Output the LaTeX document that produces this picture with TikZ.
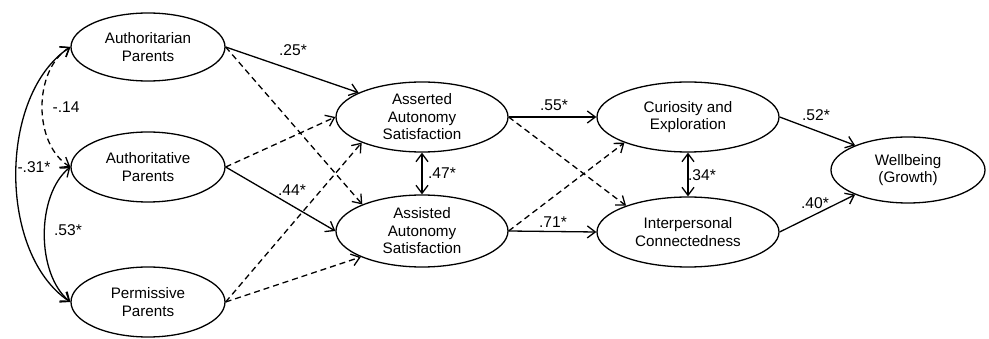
\documentclass[tikz,border=0pt]{standalone}
\usepackage{fontspec}
\setmainfont{Liberation Sans}
\usetikzlibrary{shapes.geometric,arrows.meta}
\begin{document}
\begin{tikzpicture}[x=1pt,y=1pt,
  >={Straight Barb[length=8pt,width=12pt]},
  ell/.style={draw, ellipse, line width=1.3pt, inner sep=0pt, align=center,
    font=\fontsize{15.2}{17.5}\selectfont},
  lbl/.style={font=\fontsize{15.6}{17.5}\selectfont, inner sep=0pt},
  conn/.style={line width=1.3pt, ->},
  dconn/.style={line width=1.3pt, <->},
  dsh/.style={dash pattern=on 6pt off 4pt}]
\useasboundingbox (0,0) rectangle (989,-339);
% nodes
\node[ell, minimum width=154, minimum height=68] (ar) at (148,-47) {Authoritarian\\Parents};
\node[ell, minimum width=154, minimum height=70] (av) at (148,-167) {Authoritative\\Parents};
\node[ell, minimum width=154, minimum height=70] (pe) at (148,-302) {Permissive\\Parents};
\node[ell, minimum width=172, minimum height=70] (as) at (422,-117) {Asserted\\Autonomy\\Satisfaction};
\node[ell, minimum width=172, minimum height=72] (ai) at (422,-231) {Assisted\\Autonomy\\Satisfaction};
\node[ell, minimum width=182, minimum height=70] (cu) at (688,-117) {Curiosity and\\Exploration};
\node[ell, minimum width=182, minimum height=70] (ip) at (688,-232) {Interpersonal\\Connectedness};
\node[ell, minimum width=154, minimum height=66] (wb) at (908,-170) {Wellbeing\\(Growth)};
% left correlations
\draw[dconn] (ar.west) .. controls (-2,-95) and (-2,-254) .. (pe.west);
\draw[dconn, dsh] (ar.west) .. controls (33,-70) and (33,-144) .. (av.west);
\draw[dconn] (av.west) .. controls (36,-195) and (36,-274) .. (pe.west);
\node[lbl] (l14) at (66,-107) {-.14};
\node[lbl] (l31) at (34,-167) {-.31*};
\node[lbl] (l53) at (68,-230) {.53*};
% parents -> autonomy
\draw[conn] (ar.east) -- (as.159);
\draw[conn, dsh] (ar.east) -- (ai.156);
\draw[conn, dsh] (av.east) -- (as.west);
\draw[conn] (av.east) -- (ai.west);
\draw[conn, dsh] (pe.east) -- (as.203);
\draw[conn, dsh] (pe.east) -- (ai.203);
\node[lbl] (l25) at (293,-50) {.25*};
\node[lbl] (l44) at (292,-190) {.44*};
% autonomy correlation
\draw[dconn] (as.south) -- (ai.north);
\node[lbl] (l47) at (442,-173) {.47*};
% autonomy -> outcomes
\draw[conn] (as.east) -- (cu.west);
\draw[conn] (ai.east) -- (ip.west);
\draw[conn, dsh] (as.east) -- (ip.157);
\draw[conn, dsh] (ai.east) -- (cu.202);
\node[lbl] (l55) at (554,-105) {.55*};
\node[lbl] (l71) at (553,-222) {.71*};
% outcome correlation
\draw[dconn] (cu.south) -- (ip.north);
\node[lbl] (l34) at (702,-175) {.34*};
% outcomes -> wellbeing
\draw[conn] (cu.east) -- (wb.155);
\draw[conn] (ip.east) -- (wb.205);
\node[lbl] (l52) at (816,-115) {.52*};
\node[lbl] (l40) at (815,-203) {.40*};
\end{tikzpicture}
\end{document}
